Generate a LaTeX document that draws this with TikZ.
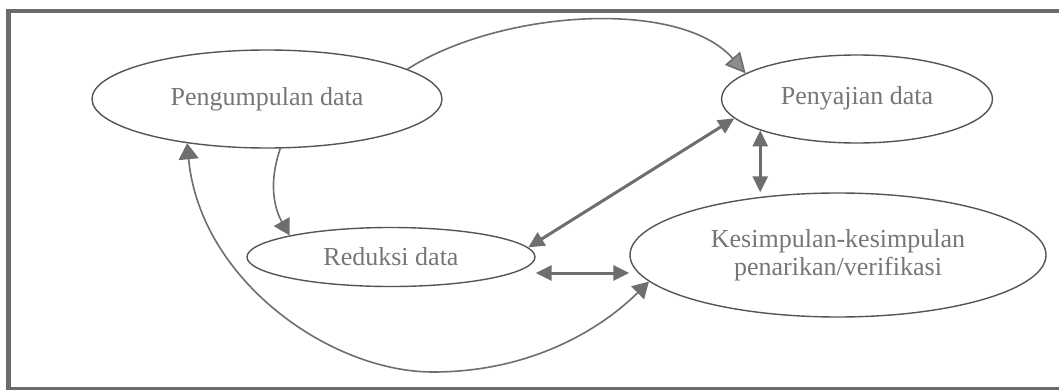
\documentclass[tikz,border=0pt]{standalone}
\usepackage{fontspec}
\setmainfont{Liberation Serif}
\usetikzlibrary{shapes.geometric,arrows.meta}
\definecolor{edgegray}{HTML}{555555}
\definecolor{textgray}{HTML}{767676}
\definecolor{linegray}{HTML}{6E6E6E}
\definecolor{framegray}{HTML}{6B6B6B}

\begin{document}
\begin{tikzpicture}[x=0.5pt, y=-0.5pt,
    main/.style = {draw=edgegray, ellipse, line width=0.7pt, inner sep=0pt, text=textgray, font=\fontsize{13}{14}\selectfont, align=center},
    curvy/.style = {linegray, line width=0.8pt, -{Triangle[length=8pt,width=9pt]}},
    twoway/.style = {linegray, line width=1.5pt, {Triangle[length=8pt,width=7.5pt]}-{Triangle[length=8pt,width=7.5pt]}}]
        \useasboundingbox (0,0) rectangle (1059,390);
        \clip (0,0) rectangle (1059,390);
        \fill[white] (0,0) rectangle (1059,390);
        \draw[framegray, line width=2.2pt] (1200,11) -- (8.5,11) -- (8.5,389) -- (1200,389);
        \node[main, minimum width=175pt, minimum height=49pt] (a) at (267,99) {Pengumpulan data};
        \node[main, minimum width=135.5pt, minimum height=44pt] (b) at (857,99) {\raisebox{4pt}{Penyajian data}};
        \node[main, minimum width=208pt, minimum height=62pt] (c) at (838,255) {Kesimpulan-kesimpulan\\penarikan/verifikasi};
        \node[main, minimum width=144pt, minimum height=29.5pt] (d) at (391,257) {Reduksi data};
        %% Arrows
        \draw[curvy, -{Triangle[length=10pt,width=10pt,fill=black!45]}] (a.12) .. controls (500,10) and (680,-2) .. (b.167);
        \draw[curvy] (a.-75) .. controls (266,190) and (278,215) .. (d.168);
        \draw[curvy, {Triangle[length=8pt,width=10pt]}-{Triangle[length=8pt,width=9pt]}] (a.209) .. controls (200,280) and (330,372) .. (433,372) .. controls (530,372) and (600,330) .. (c.188);
        \draw[twoway] (d.4) -- (b.189);
        \draw[twoway] ([yshift=-8pt]d.east) -- ([yshift=-8pt]d.east -| c.west);
        \draw[twoway] (b.198) -- (b.198 |- c.north);
    \end{tikzpicture}
\end{document}
